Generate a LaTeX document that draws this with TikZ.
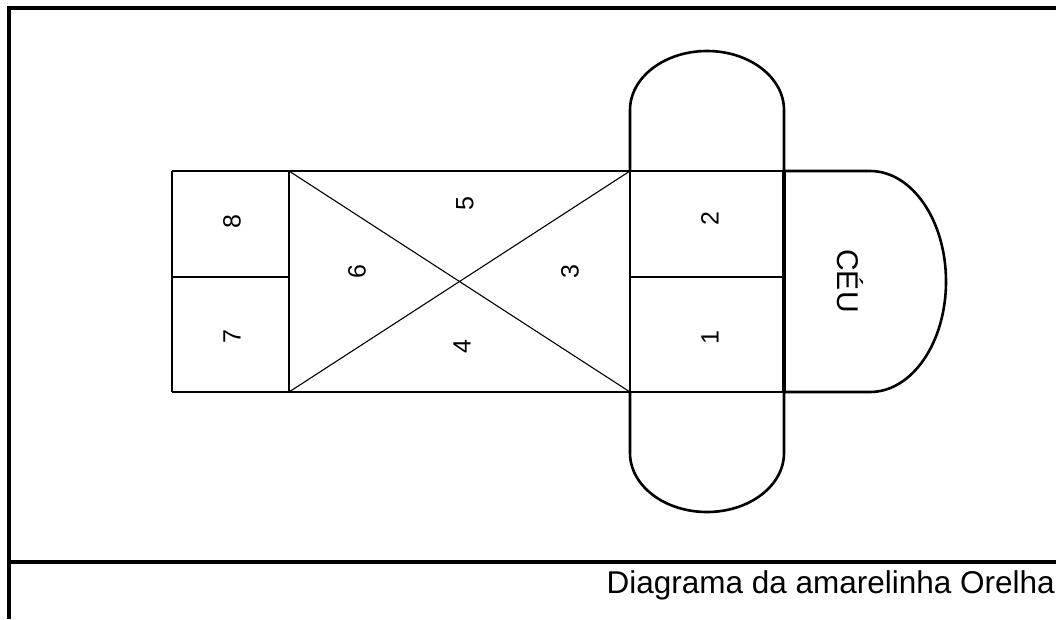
\documentclass[tikz,border=0pt]{standalone}
\usepackage{fontspec}
\setmainfont{Liberation Sans}
\begin{document}
\begin{tikzpicture}[x=1pt,y=-1pt,
  frame/.style={line width=3.5pt},
  outline/.style={line width=2.6pt},
  thin/.style={line width=1.1pt},
  heavy/.style={line width=4.5pt},
  num/.style={inner sep=0pt, rotate=90, font=\fontsize{25}{30}\selectfont},
  sky/.style={inner sep=0pt, rotate=-90, font=\fontsize{30}{36}\selectfont},
  caption/.style={inner sep=0pt, anchor=east, font=\fontsize{31.5}{38}\selectfont}]
\useasboundingbox (0,0) rectangle (1056,619);
% outer frame
\draw[frame] (1056,8) -- (9,8) -- (9,619);
\draw[frame] (9,562) -- (1056,562);
% coordinates
\coordinate (A) at (172,171);
\coordinate (B) at (630,171);
\coordinate (C) at (784,171);
\coordinate (D) at (172,392);
\coordinate (E) at (630,392);
\coordinate (F) at (784,392);
\coordinate (G) at (289,171);
\coordinate (H) at (289,392);
% thin internal lines
\draw[thin] (172,277) -- (289,277);
\draw[thin] (G) -- (H);
\draw[thin] (G) -- (E);
\draw[thin] (H) -- (B);
\draw[thin] (630,277) -- (784,277);
\draw[line width=1.6pt] (B) -- (E);
% top cap
\draw[outline] (B) -- (630,110) arc[start angle=180, end angle=0, x radius=77pt, y radius=59pt] -- (C);
% bottom cap
\draw[outline] (E) -- (630,453) arc[start angle=180, end angle=360, x radius=77pt, y radius=59pt] -- (F);
% sky cap
\draw[outline] (C) -- (870,171) arc[start angle=90, end angle=-90, x radius=76pt, y radius=110.5pt] -- (F);
% main outline
\draw[outline] (A) -- (C);
\draw[outline] (D) -- (F);
\draw[outline] (A) -- (D);
\draw[heavy] (C) -- (F);
% labels
\node[num] (n8) at (232,222) {8};
\node[num] (n7) at (232,337) {7};
\node[num] (n6) at (357,272) {6};
\node[num] (n5) at (465,204) {5};
\node[num] (n4) at (462,347) {4};
\node[num] (n3) at (570,272) {3};
\node[num] (n2) at (710,219) {2};
\node[num] (n1) at (710,338) {1};
\node[sky] (ceu) at (850,281) {CÉU};
\node[caption] (cap) at (1055,585) {Diagrama da amarelinha Orelha};
\end{tikzpicture}
\end{document}
